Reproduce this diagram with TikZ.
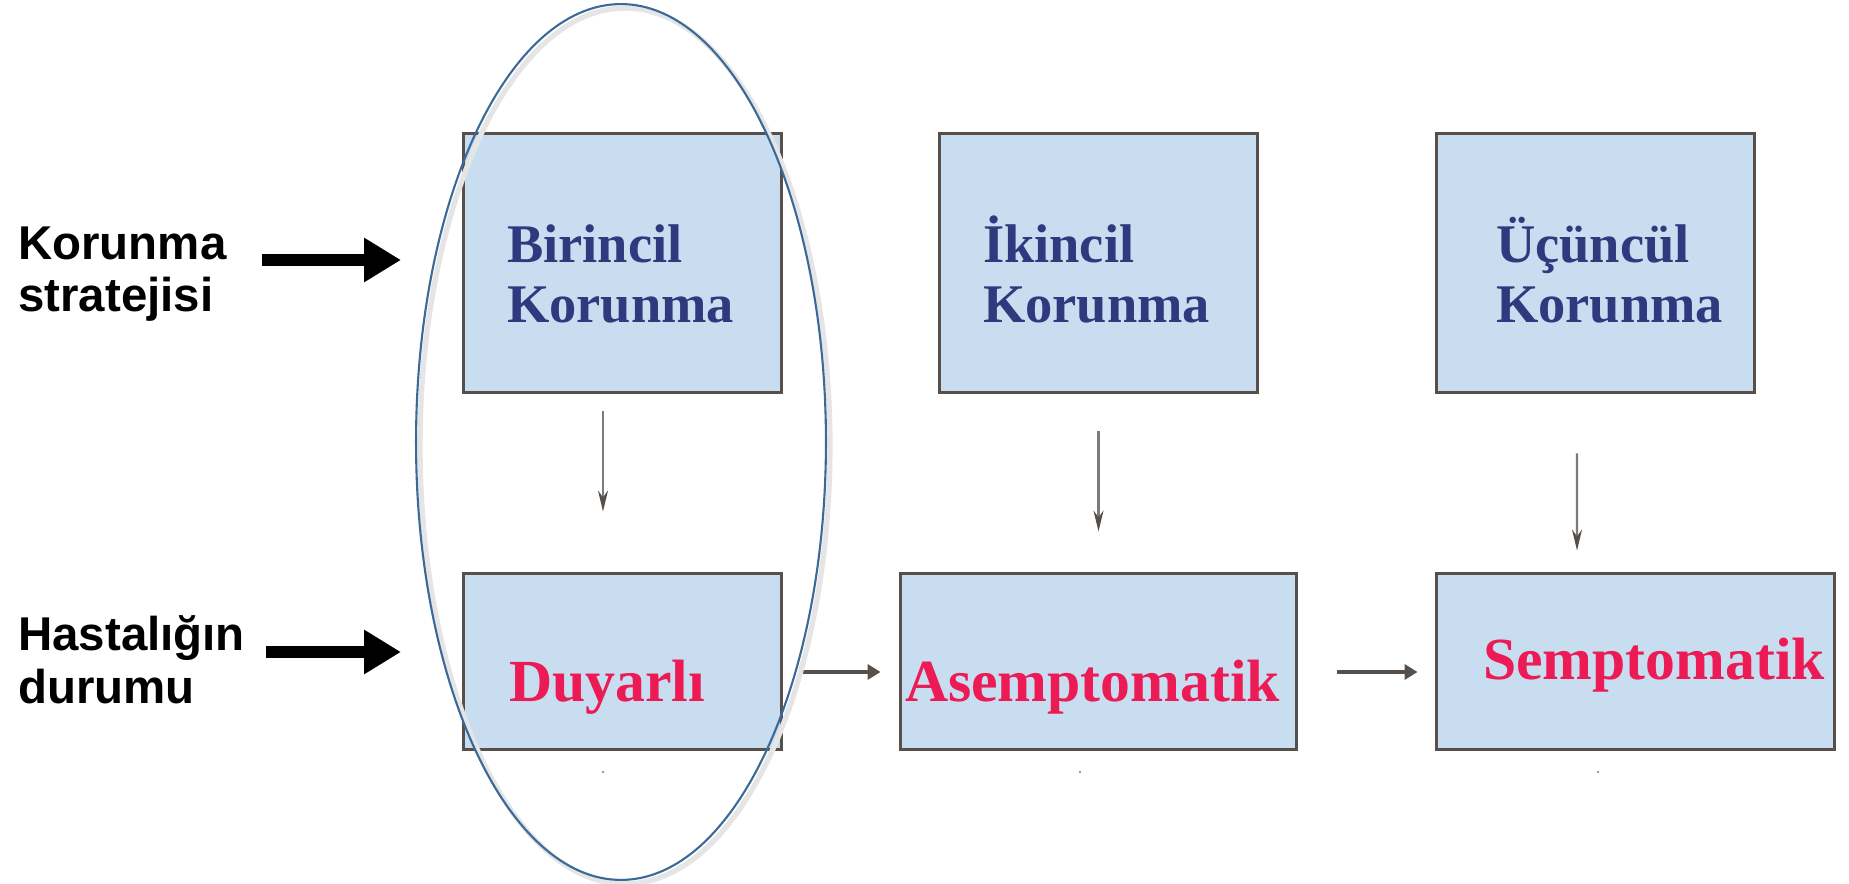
\documentclass[tikz,border=0pt]{standalone}
\usepackage{fontspec}
\setmainfont{Liberation Serif}
\setsansfont{Liberation Sans}
\usetikzlibrary{arrows.meta}
\hyphenpenalty=10000
\definecolor{boxfill}{HTML}{C8DDF0}
\definecolor{boxline}{HTML}{57504A}
\definecolor{navy}{HTML}{2D3B7E}
\definecolor{rose}{HTML}{EC1A55}
\definecolor{ringblue}{HTML}{3C6A98}
\definecolor{arrgray}{HTML}{807A76}
\tikzset{
	stage/.style={draw=boxline, line width=1.7pt, fill=boxfill, inner ysep=0pt, align=left},
	prevbox/.style={stage, minimum height=5.2cm, inner xsep=0.88cm, text width=4.62cm, text height=1.2cm, text depth=1.2cm, text=navy, font=\bfseries\fontsize{31}{34}\selectfont},
	statebox/.style={stage, minimum height=3.54cm, text height=1.87cm, text depth=0.25cm, text=rose, font=\bfseries\fontsize{34}{37}\selectfont},
	side/.style={font=\sffamily\bfseries\fontsize{27}{30}\selectfont, align=left, anchor=west},
	bigarr/.style={line width=0.24cm, -{Triangle[length=0.74cm,width=0.84cm]}},
	downarr/.style={arrgray, line width=1.2pt, -{Stealth[length=0.42cm,width=0.2cm,color=boxline]}},
	nextarr/.style={boxline, line width=2.4pt, -{Triangle[length=0.26cm,width=0.3cm]}},
}
\begin{document}
\begin{tikzpicture}[x=0.02cm, y=-0.02cm]
	\useasboundingbox (0,0) rectangle (1849,884);
	% koruma kutulari
	\node[prevbox] (p1) at (622.5,263) {Birincil\\Korunma};
	\node[prevbox] (p2) at (1098.5,263) {İkincil\\Korunma};
	\node[prevbox, inner xsep=1.2cm, text width=3.98cm] (p3) at (1595.5,263) {Üçüncül\\Korunma};
	% hastalik durumlari
	\node[statebox, inner xsep=0.92cm, text width=4.54cm] (s1) at (622.5,661.5) {Duyarlı};
	\node[statebox, inner xsep=0.1cm, text width=7.74cm] (s2) at (1098.5,661.5) {Asemptomatik};
	\node[statebox, inner xsep=0.94cm, text width=6.1cm, text height=0.99cm] (s3) at (1635.5,661.5) {Semptomatik};
	% sol etiketler
	\node[side] (ks) at (12,274) {Korunma\\stratejisi};
	\node[side] (hd) at (12,660) {Hastalığın\\durumu};
	\coordinate (ke) at (401,260);
	\coordinate (he) at (401,652);
	\draw[bigarr, shorten <=0.58cm] (ks.east |- ke) -- (ke);
	\draw[bigarr, shorten <=0.3cm] (hd.east |- he) -- (he);
	% oklar
	\draw[downarr] ([xshift=-0.39cm,yshift=-0.34cm]p1.south) -- ([xshift=-0.39cm,yshift=1.2cm]s1.north);
	\draw[downarr] ([yshift=-0.74cm]p2.south) -- ([yshift=0.8cm]s2.north);
	\draw[downarr] ([xshift=-0.37cm,yshift=-1.18cm]p3.south) -- ([xshift=-1.17cm,yshift=0.42cm]s3.north);
	\draw[nextarr] ([xshift=0.4cm,yshift=-0.21cm]s1.east) -- ([xshift=-0.36cm,yshift=-0.21cm]s2.west);
	\draw[nextarr] ([xshift=0.78cm,yshift=-0.21cm]s2.east) -- ([xshift=-0.34cm,yshift=-0.21cm]s3.west);
	\foreach \x in {603,1080,1598}
		\fill[arrgray] (\x,772) circle (0.6pt);
	% elips
	\draw[gray!20, line width=3pt] (625,446) ellipse [x radius=4.1cm, y radius=8.76cm];
	\draw[ringblue, line width=1.2pt] (621,442) ellipse [x radius=4.1cm, y radius=8.76cm];
\end{tikzpicture}
\end{document}
